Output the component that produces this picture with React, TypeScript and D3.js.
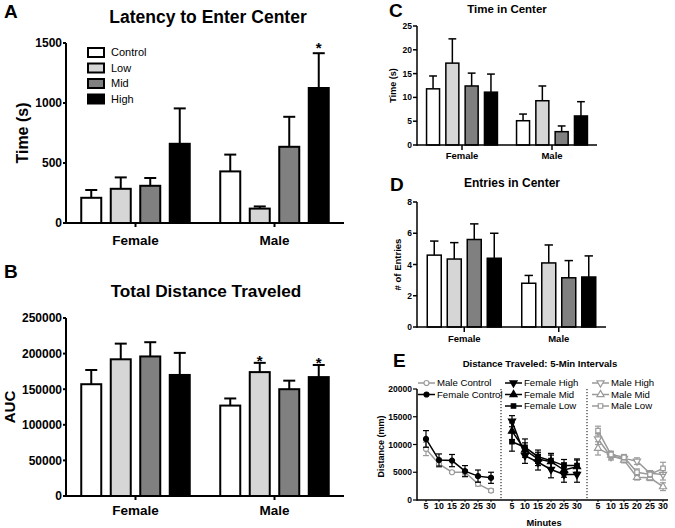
import React from "react";
import * as d3 from "d3";

const FONT = "'Liberation Sans', Arial, sans-serif";

const sexes = ["Female", "Male"];
const doses = ["Control", "Low", "Mid", "High"];
const doseFills = ["#ffffff", "#d6d6d6", "#808080", "#000000"];

// A: Latency to Enter Center
const latencyFemale = [210, 285, 310, 660];
const latencyFemaleSem = [65, 95, 65, 295];
const latencyMale = [430, 120, 635, 1125];
const latencyMaleSem = [140, 18, 250, 290];
const latencyTicks = [0, 500, 1000, 1500];
const latencyStars: [string, string][] = [["Male", "High"]];

// B: Total Distance Traveled (AUC)
const aucFemale = [157000, 192000, 196000, 170000];
const aucFemaleSem = [20000, 22000, 20000, 31000];
const aucMale = [127000, 174000, 150000, 167000];
const aucMaleSem = [10000, 13000, 12000, 17000];
const aucTicks = [0, 50000, 100000, 150000, 200000, 250000];
const aucStars: [string, string][] = [["Male", "Low"], ["Male", "High"]];

// C: Time in Center
const centerTimeFemale = [11.8, 17.2, 12.4, 11.1];
const centerTimeFemaleSem = [2.7, 5.1, 2.7, 3.8];
const centerTimeMale = [5.1, 9.3, 2.8, 6.1];
const centerTimeMaleSem = [1.4, 3.1, 1.2, 3.0];
const centerTimeTicks = [0, 5, 10, 15, 20, 25];

// D: Entries in Center
const entriesFemale = [4.6, 4.35, 5.6, 4.4];
const entriesFemaleSem = [0.9, 1.05, 1.0, 1.6];
const entriesMale = [2.8, 4.1, 3.15, 3.2];
const entriesMaleSem = [0.5, 1.15, 1.1, 1.35];
const entriesTicks = [0, 2, 4, 6, 8];

// E: Distance traveled in 5-min intervals
const minutes = [5, 10, 15, 20, 25, 30];
const distTicks = [0, 5000, 10000, 15000, 20000];
const femaleControlDist = [11000, 7200, 7100, 5200, 4300, 4000];
const femaleControlSem = [1500, 1100, 1100, 1000, 1100, 1000];
const maleControlDist = [9200, 6500, 5000, 5000, 2900, 1700];
const maleControlSem = [1200, 600, 200, 500, 400, 300];
const femaleHighDist = [14200, 8000, 6800, 5500, 4600, 4600];
const femaleHighSem = [1000, 1400, 1400, 1500, 1400, 1400];
const femaleMidDist = [12400, 9000, 7400, 6900, 5400, 6000];
const femaleMidSem = [1500, 1300, 1200, 1200, 1300, 1200];
const femaleLowDist = [10500, 9500, 7800, 7100, 6200, 6200];
const femaleLowSem = [1700, 1500, 1200, 1300, 1100, 1200];
const maleHighDist = [11000, 7800, 7500, 7000, 4800, 4600];
const maleHighSem = [1000, 600, 500, 600, 500, 1000];
const maleMidDist = [9300, 8100, 7200, 4100, 4000, 2400];
const maleMidSem = [1200, 700, 500, 500, 500, 700];
const maleLowDist = [12500, 8200, 7700, 5000, 4600, 5700];
const maleLowSem = [800, 500, 500, 600, 500, 1100];

type BarProps = {
  left: number; right: number; top: number; bottom: number;
  max: number; ticks: number[];
  female: number[]; femaleSem: number[]; male: number[]; maleSem: number[];
  barW: number; barStep: number; sw: number;
  tickFont: number; catFont: number; catDy: number; tickLen: number;
  ylabel: string; ylabelX: number; ylabelFont: number;
  stars?: [string, string][]; starFont?: number; starDy?: number;
};

function BarPanel(p: BarProps) {
  const x = d3.scalePoint<string>().domain(sexes).range([p.left, p.right]).padding(0.5);
  const span = 3 * p.barStep + p.barW;
  const xi = d3.scaleBand<string>().domain(doses).range([-span / 2, span / 2])
    .paddingInner((p.barStep - p.barW) / p.barStep);
  const y = d3.scaleLinear().domain([0, p.max]).range([p.bottom, p.top]);
  const vals = [p.female, p.male];
  const sems = [p.femaleSem, p.maleSem];
  const bw = xi.bandwidth();
  return (
    <g>
      {sexes.map((s, si) => doses.map((d, di) => {
        const v = vals[si][di];
        const e = sems[si][di];
        const bx = (x(s) as number) + (xi(d) as number);
        const cx = bx + bw / 2;
        return (
          <g key={s + d}>
            <line x1={cx} x2={cx} y1={y(v)} y2={y(v + e)} stroke="#000" strokeWidth={p.sw} />
            <line x1={cx - bw * 0.3} x2={cx + bw * 0.3} y1={y(v + e)} y2={y(v + e)} stroke="#000" strokeWidth={p.sw} />
            <rect x={bx} y={y(v)} width={bw} height={y(0) - y(v)} fill={doseFills[di]} stroke="#000" strokeWidth={p.sw} />
          </g>
        );
      }))}
      {(p.stars || []).map(([s, d]) => {
        const si = sexes.indexOf(s);
        const di = doses.indexOf(d);
        const cx = (x(s) as number) + (xi(d) as number) + bw / 2;
        return (
          <text key={"st" + s + d} x={cx} y={y(vals[si][di] + sems[si][di]) + (p.starDy || 0)}
            textAnchor="middle" fontSize={p.starFont} fontWeight="bold">*</text>
        );
      })}
      <line x1={p.left} x2={p.left} y1={y(p.max)} y2={p.bottom + p.sw / 2} stroke="#000" strokeWidth={p.sw} />
      <line x1={p.left} x2={p.right} y1={p.bottom} y2={p.bottom} stroke="#000" strokeWidth={p.sw} />
      {p.ticks.map((t) => (
        <g key={"yt" + t}>
          <line x1={p.left - p.tickLen} x2={p.left} y1={y(t)} y2={y(t)} stroke="#000" strokeWidth={p.sw} />
          <text x={p.left - p.tickLen - 1} y={y(t)} dy="0.36em" textAnchor="end" fontSize={p.tickFont} fontWeight="bold">{String(t)}</text>
        </g>
      ))}
      {sexes.map((s) => (
        <g key={"xt" + s}>
          <line x1={x(s)} x2={x(s)} y1={p.bottom} y2={p.bottom + p.tickLen + 1} stroke="#000" strokeWidth={p.sw} />
          <text x={x(s)} y={p.bottom + p.catDy} textAnchor="middle" fontSize={p.catFont} fontWeight="bold">{s}</text>
        </g>
      ))}
      <text transform={`translate(${p.ylabelX},${(p.top + p.bottom) / 2}) rotate(-90)`} textAnchor="middle"
        fontSize={p.ylabelFont} fontWeight="bold">{p.ylabel}</text>
    </g>
  );
}

const markerPaths: Record<string, string> = {
  circle: d3.symbol().type(d3.symbolCircle).size(20)() as string,
  square: d3.symbol().type(d3.symbolSquare).size(20)() as string,
  up: d3.symbol().type(d3.symbolTriangle).size(22)() as string,
};

function Marker({ shape, x, y, color, filled }: { shape: string; x: number; y: number; color: string; filled: boolean }) {
  const path = shape === "down" ? markerPaths.up : markerPaths[shape];
  const rot = shape === "down" ? " rotate(180)" : "";
  return <path d={path} transform={`translate(${x},${y})${rot}`} fill={filled ? color : "#fff"} stroke={color} strokeWidth={1.2} />;
}

type Series = { name: string; vals: number[]; sem: number[]; shape: string; female: boolean; panel: number };

const GRAY = "#9a9a9a";

const eSeries: Series[] = [
  { name: "Male Control", vals: maleControlDist, sem: maleControlSem, shape: "circle", female: false, panel: 0 },
  { name: "Female Control", vals: femaleControlDist, sem: femaleControlSem, shape: "circle", female: true, panel: 0 },
  { name: "Female High", vals: femaleHighDist, sem: femaleHighSem, shape: "down", female: true, panel: 1 },
  { name: "Female Mid", vals: femaleMidDist, sem: femaleMidSem, shape: "up", female: true, panel: 1 },
  { name: "Female Low", vals: femaleLowDist, sem: femaleLowSem, shape: "square", female: true, panel: 1 },
  { name: "Male High", vals: maleHighDist, sem: maleHighSem, shape: "down", female: false, panel: 2 },
  { name: "Male Mid", vals: maleMidDist, sem: maleMidSem, shape: "up", female: false, panel: 2 },
  { name: "Male Low", vals: maleLowDist, sem: maleLowSem, shape: "square", female: false, panel: 2 },
];

function PanelE() {
  const left = 417, right = 668, top = 389, bottom = 500;
  const panels = d3.scaleBand<number>().domain([0, 1, 2]).range([415, 673]);
  const xm = d3.scaleLinear().domain([5, 30]).range([11, 76]);
  const y = d3.scaleLinear().domain([0, 20000]).range([bottom, top]);
  const px = (panel: number, m: number) => (panels(panel) as number) + xm(m);
  const legendX = [418, 505, 592];
  const legendRows = [383, 394.5, 406];
  const legendCount = [0, 0, 0];
  return (
    <g>
      {[1, 2].map((i) => (
        <line key={"div" + i} x1={panels(i)} x2={panels(i)} y1={top} y2={bottom}
          stroke="#000" strokeWidth={1} strokeDasharray="1.2,1.8" />
      ))}
      {eSeries.map((s) => {
        const color = s.female ? "#000" : GRAY;
        const line = d3.line<number>().x((_, i) => px(s.panel, minutes[i])).y((v) => y(v));
        return (
          <g key={s.name}>
            <path d={line(s.vals) as string} fill="none" stroke={color} strokeWidth={1.5} />
            {s.vals.map((v, i) => {
              const cx = px(s.panel, minutes[i]);
              return (
                <g key={i}>
                  <line x1={cx} x2={cx} y1={y(v - s.sem[i])} y2={y(v + s.sem[i])} stroke={color} strokeWidth={1.2} />
                  <line x1={cx - 3} x2={cx + 3} y1={y(v - s.sem[i])} y2={y(v - s.sem[i])} stroke={color} strokeWidth={1.2} />
                  <line x1={cx - 3} x2={cx + 3} y1={y(v + s.sem[i])} y2={y(v + s.sem[i])} stroke={color} strokeWidth={1.2} />
                  <Marker shape={s.shape} x={cx} y={y(v)} color={color} filled={s.female} />
                </g>
              );
            })}
          </g>
        );
      })}
      {eSeries.map((s) => {
        const color = s.female ? "#000" : GRAY;
        const row = legendCount[s.panel]++;
        const lx = legendX[s.panel];
        const ly = legendRows[row];
        return (
          <g key={"lg" + s.name}>
            <line x1={lx} x2={lx + 17} y1={ly} y2={ly} stroke={color} strokeWidth={1.5} />
            <Marker shape={s.shape} x={lx + 8.5} y={ly} color={color} filled={s.female} />
            <text x={lx + 19} y={ly} dy="0.35em" fontSize={9.6}>{s.name}</text>
          </g>
        );
      })}
      <line x1={left} x2={left} y1={top} y2={bottom + 0.75} stroke="#000" strokeWidth={1.5} />
      <line x1={left} x2={right} y1={bottom} y2={bottom} stroke="#000" strokeWidth={1.5} />
      {distTicks.map((t) => (
        <g key={"et" + t}>
          <line x1={left - 4} x2={left} y1={y(t)} y2={y(t)} stroke="#000" strokeWidth={1.2} />
          <text x={left - 5} y={y(t)} dy="0.36em" textAnchor="end" fontSize={8.5} fontWeight="bold">{String(t)}</text>
        </g>
      ))}
      {[0, 1, 2].map((g) => minutes.map((m) => (
        <g key={"mx" + g + m}>
          <line x1={px(g, m)} x2={px(g, m)} y1={bottom} y2={bottom + 2} stroke="#000" strokeWidth={1} />
          <text x={px(g, m)} y={bottom + 9} textAnchor="middle" fontSize={8.8} fontWeight="bold">{String(m)}</text>
        </g>
      )))}
      <text x={544} y={526} textAnchor="middle" fontSize={9.3} fontWeight="bold">Minutes</text>
      <text transform={`translate(384,${(top + bottom) / 2 + 2}) rotate(-90)`} textAnchor="middle" fontSize={9} fontWeight="bold">Distance (mm)</text>
      <text x={540} y={367} textAnchor="middle" fontSize={9.6} fontWeight="bold">Distance Traveled: 5-Min Intervals</text>
      <text x={393} y={367} fontSize={19} fontWeight="bold">E</text>
    </g>
  );
}

export default function App() {
  return (
    <svg width={675} height={528} style={{ position: "absolute", left: 0, top: 0, background: "#fff" }}
      fontFamily={FONT}>
      <rect x={0} y={0} width={675} height={528} fill="#fff" />
      {/* Panel A */}
      <text x={4} y={18} fontSize={19} fontWeight="bold">A</text>
      <text x={208} y={23} textAnchor="middle" fontSize={17.5} fontWeight="bold">Latency to Enter Center</text>
      <BarPanel left={66} right={344} top={43} bottom={223} max={1500} ticks={latencyTicks}
        female={latencyFemale} femaleSem={latencyFemaleSem} male={latencyMale} maleSem={latencyMaleSem}
        barW={20} barStep={29.5} sw={2} tickFont={12} catFont={13.5} catDy={22} tickLen={3}
        ylabel="Time (s)" ylabelX={28} ylabelFont={16} stars={latencyStars} starFont={15} starDy={0} />
      {doses.map((d, i) => (
        <g key={"la" + d}>
          <rect x={88} y={48 + i * 15.5} width={16} height={9} fill={doseFills[i]} stroke="#000" strokeWidth={2} />
          <text x={111} y={52.5 + i * 15.5} dy="0.36em" fontSize={11}>{d}</text>
        </g>
      ))}
      {/* Panel B */}
      <text x={4} y={278} fontSize={19} fontWeight="bold">B</text>
      <text x={206} y={297} textAnchor="middle" fontSize={17.2} fontWeight="bold">Total Distance Traveled</text>
      <BarPanel left={66} right={344} top={318} bottom={496} max={250000} ticks={aucTicks}
        female={aucFemale} femaleSem={aucFemaleSem} male={aucMale} maleSem={aucMaleSem}
        barW={20} barStep={29.5} sw={2} tickFont={12} catFont={13.5} catDy={19} tickLen={3}
        ylabel="AUC" ylabelX={15} ylabelFont={15} stars={aucStars} starFont={15} starDy={3} />
      {/* Panel C */}
      <text x={389} y={17} fontSize={19} fontWeight="bold">C</text>
      <text x={507} y={13} textAnchor="middle" fontSize={11.5} fontWeight="bold">Time in Center</text>
      <BarPanel left={417} right={597} top={26} bottom={145} max={25} ticks={centerTimeTicks}
        female={centerTimeFemale} femaleSem={centerTimeFemaleSem} male={centerTimeMale} maleSem={centerTimeMaleSem}
        barW={13} barStep={19.3} sw={1.5} tickFont={8.5} catFont={9.5} catDy={14} tickLen={4}
        ylabel="Time (s)" ylabelX={396} ylabelFont={9} />
      {/* Panel D */}
      <text x={390} y={191} fontSize={19} fontWeight="bold">D</text>
      <text x={512} y={187} textAnchor="middle" fontSize={12} fontWeight="bold">Entries in Center</text>
      <BarPanel left={417} right={606} top={202} bottom={327} max={8} ticks={entriesTicks}
        female={entriesFemale} femaleSem={entriesFemaleSem} male={entriesMale} maleSem={entriesMaleSem}
        barW={14} barStep={20} sw={1.5} tickFont={8.5} catFont={9.5} catDy={15} tickLen={4}
        ylabel="# of Entries" ylabelX={401} ylabelFont={9.5} />
      {/* Panel E */}
      <PanelE />
    </svg>
  );
}
